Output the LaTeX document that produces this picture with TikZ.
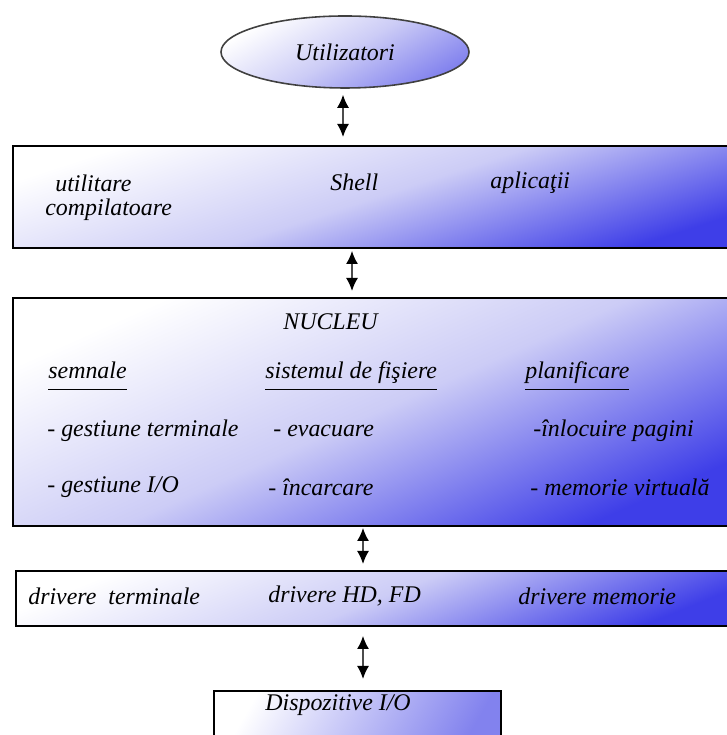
\documentclass[tikz,border=0pt]{standalone}
\usepackage{fontspec}
\setmainfont{Liberation Serif}
\usetikzlibrary{shapes.geometric,arrows.meta}
\definecolor{deepblue}{RGB}{62,62,232}
\definecolor{lavender}{RGB}{204,204,246}
\definecolor{midblue}{RGB}{130,130,238}
\begin{document}
\begin{tikzpicture}
\tikzset{layer/.style={draw=black,line width=1.1pt,rectangle,anchor=north west,
    top color=white,bottom color=deepblue,middle color=lavender}}
\tikzset{lbl/.style={anchor=west,inner sep=0pt,font=\fontsize{13.6}{15}\selectfont\itshape}}
\tikzset{dblarrow/.style={draw=gray!60!black,line width=0.9pt,
    {Latex[length=2.6mm,width=2.4mm,color=black]}-{Latex[length=2.6mm,width=2.4mm,color=black]}}}
\useasboundingbox (0,0) rectangle (14.52,14.7);
\node[ellipse,draw=black!75,line width=0.9pt,minimum width=4.96cm,minimum height=1.44cm,
  top color=white,bottom color=midblue,middle color=lavender,shading angle=30,
  font=\fontsize{13.6}{15}\selectfont\itshape] (users) at (6.9,13.66) {Utilizatori};
\node[layer,minimum width=14.5cm,minimum height=2.04cm,shading angle=18] (apps) at (0.24,11.8) {};
\node[layer,minimum width=14.5cm,minimum height=4.56cm,shading angle=24] (kernel) at (0.24,8.76) {};
\node[layer,minimum width=14.5cm,minimum height=1.1cm,shading angle=22] (drivers) at (0.3,3.3) {};
\node[layer,minimum width=5.74cm,minimum height=1.3cm,bottom color=midblue,shading angle=60] (devices) at (4.26,0.9) {};
\coordinate (ax1) at (6.86,0);
\coordinate (ax2) at (7.04,0);
\coordinate (ax3) at (7.26,0);
% aplicatii
\node[lbl] (util) at (1.1,11.04) {utilitare};
\node[lbl] (comp) at (0.9,10.5) {compilatoare};
\node[lbl] (shell) at (6.6,11.06) {Shell};
\node[lbl] (aplic) at (9.8,11.04) {aplicaţii};
% nucleu
\node[lbl] (nucleu) at (5.66,8.26) {NUCLEU};
\node[lbl] (semn) at (0.96,7.2) {\underline{semnale\strut}};
\node[lbl] (fis) at (5.3,7.2) {\underline{sistemul de fişiere\strut}};
\node[lbl] (plan) at (10.5,7.2) {\underline{planificare\strut}};
\node[lbl] (gterm) at (0.94,6.08) {- gestiune terminale};
\node[lbl] (evac) at (5.46,6.08) {- evacuare};
\node[lbl] (inloc) at (10.66,6.08) {-înlocuire pagini};
\node[lbl] (gio) at (0.94,4.96) {- gestiune I/O};
\node[lbl] (incarc) at (5.36,4.96) {- încarcare};
\node[lbl] (memv) at (10.6,4.96) {- memorie virtuală};
% drivere
\node[lbl] (dterm) at (0.56,2.78) {drivere\ \ terminale};
\node[lbl] (dhd) at (5.36,2.78) {drivere HD, FD};
\node[lbl] (dmem) at (10.36,2.78) {drivere memorie};
\node[lbl] (disp) at (5.3,0.6) {Dispozitive I/O};
% sageti
\draw[dblarrow] ([yshift=-0.12cm]users.south -| ax1) -- ([yshift=0.16cm]apps.north -| ax1);
\draw[dblarrow] ([yshift=-0.04cm]apps.south -| ax2) -- ([yshift=0.12cm]kernel.north -| ax2);
\draw[dblarrow] ([yshift=-0.02cm]kernel.south -| ax3) -- ([yshift=0.12cm]drivers.north -| ax3);
\draw[dblarrow] ([yshift=-0.18cm]drivers.south -| ax3) -- ([yshift=0.22cm]devices.north -| ax3);
\end{tikzpicture}
\end{document}
